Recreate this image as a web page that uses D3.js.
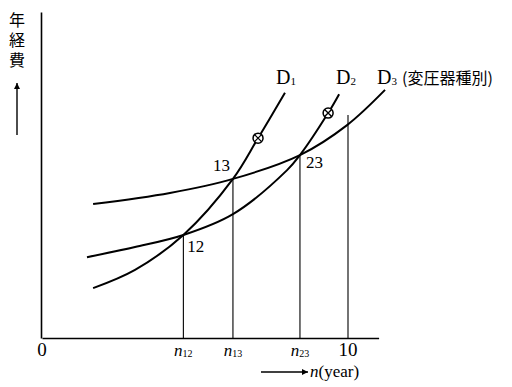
<!DOCTYPE html>
<html>
<head>
<meta charset="utf-8">
<script src="https://cdn.jsdelivr.net/npm/d3@7"></script>
<style>
  body { margin: 0; background: #fff; }
  svg { display: block; }
  text { font-family: "Liberation Serif", "DejaVu Serif", serif; fill: #000; }
  .cjk { font-family: "Noto Sans CJK JP", "Noto Sans CJK SC", sans-serif; }
</style>
</head>
<body>
<svg id="chart" width="512" height="387"></svg>
<script>
// Annual cost curves for three transformer types against years in service n.
// Break-even years (where two cost curves cross)
const n12 = 4.62, c12 = 31.6;
const n13 = 6.24, c13 = 48.8;
const n23 = 8.43, c23 = 56.1;

// Curve D1
const d1N = [1.67, 3.04, n12, n13, 7.06, 7.94];
const d1C = [15.3, 20.9, c12, c13, 61.3, 75.2];
// Curve D2
const d2N = [1.47, 3.04, n12, n13, 8.01, n23, 9.35, 9.71];
const d2C = [24.8, 27.9, c12, 38.0, 51.5, c23, 69.0, 74.8];
// Curve D3
const d3N = [1.67, 4.18, n13, n23, 9.97, 11.21];
const d3C = [41.1, 44.5, c13, c23, 65.3, 76.1];

// Crossed-circle markers on D1 and D2
const markN = [7.06, 9.35];
const markC = [61.3, 69.0];

// Axis label positions along n
const tickN = [0, n12, n13, n23, 10];
const tickLabels = ["0", "n12", "n13", "n23", "10"];

// Intersection labels
const crossN = [n12, n13, n23];
const crossC = [c12, c13, c23];
const crossLabels = ["12", "13", "23"];

// Height of the guide line at n = 10
const guideTop = 68.4;

const svg = d3.select("#chart");
const x = d3.scaleLinear().domain([0, 11]).range([42, 378.6]);
const y = d3.scaleLinear().domain([0, 100]).range([338, 12]);

// Axes: plain lines without tick marks
svg.append("g")
  .attr("transform", `translate(0,${y(0)})`)
  .call(d3.axisBottom(x).tickValues([]).tickSize(0).tickSizeOuter(0))
  .call(g => g.select(".domain").attr("stroke", "#000").attr("stroke-width", 1.6));
svg.append("g")
  .attr("transform", `translate(${x(0) - 1},0)`)
  .call(d3.axisLeft(y).tickValues([]).tickSize(0).tickSizeOuter(0))
  .call(g => g.select(".domain").attr("stroke", "#000").attr("stroke-width", 1.6));

// Vertical drop lines from crossings
svg.append("g").selectAll("line")
  .data(crossN.map((n, i) => [n, crossC[i]]))
  .join("line")
  .attr("x1", d => x(d[0])).attr("x2", d => x(d[0]))
  .attr("y1", d => y(d[1])).attr("y2", y(0))
  .attr("stroke", "#000").attr("stroke-width", 1.1);
svg.append("line")
  .attr("x1", x(10)).attr("x2", x(10))
  .attr("y1", y(guideTop)).attr("y2", y(0))
  .attr("stroke", "#000").attr("stroke-width", 1.1);

// Cost curves
const line = d3.line().x(d => x(d[0])).y(d => y(d[1])).curve(d3.curveCatmullRom.alpha(0.5));
[[d1N, d1C], [d2N, d2C], [d3N, d3C]].forEach(([ns, cs]) => {
  svg.append("path")
    .attr("d", line(ns.map((n, i) => [n, cs[i]])))
    .attr("fill", "none").attr("stroke", "#000").attr("stroke-width", 2);
});

// Crossed circle markers
const marks = svg.append("g").selectAll("g")
  .data(markN.map((n, i) => [n, markC[i]]))
  .join("g")
  .attr("transform", d => `translate(${x(d[0])},${y(d[1])})`);
marks.append("circle").attr("r", 5).attr("fill", "#fff").attr("stroke", "#000").attr("stroke-width", 1.5);
marks.append("path").attr("d", "M-3.5,-3.5L3.5,3.5M-3.5,3.5L3.5,-3.5").attr("stroke", "#000").attr("stroke-width", 1.3);

// Crossing labels
const crossDx = [4, -20, 6];
const crossDy = [17, -8, 13];
svg.append("g").selectAll("text")
  .data(crossLabels)
  .join("text")
  .attr("x", (d, i) => x(crossN[i]) + crossDx[i])
  .attr("y", (d, i) => y(crossC[i]) + crossDy[i])
  .attr("font-size", 17)
  .text(d => d);

// Curve names
const nameX = [276, 336, 377];
const nameSubs = ["1", "2", "3"];
nameX.forEach((px, i) => {
  const t = svg.append("text").attr("x", px).attr("y", 84).attr("font-size", 20);
  t.append("tspan").text("D");
  t.append("tspan").attr("font-size", 11).attr("dy", 1).text(nameSubs[i]);
});
svg.append("text").attr("class", "cjk").attr("x", 402).attr("y", 84)
  .attr("font-size", 16).text("(変圧器種別)");

// Bottom labels
tickN.forEach((n, i) => {
  const lab = tickLabels[i];
  const t = svg.append("text").attr("x", x(n)).attr("y", 356).attr("text-anchor", "middle");
  if (lab.startsWith("n")) {
    t.append("tspan").attr("font-style", "italic").attr("font-size", 17).text("n");
    t.append("tspan").attr("font-size", 10).attr("dy", 1).text(lab.slice(1));
  } else {
    t.attr("font-size", 19).text(lab);
  }
});

// Arrowheads
const defs = svg.append("defs");
defs.append("marker").attr("id", "arr").attr("viewBox", "0 0 10 10")
  .attr("refX", 10).attr("refY", 5).attr("markerWidth", 8).attr("markerHeight", 6)
  .attr("orient", "auto").attr("markerUnits", "userSpaceOnUse")
  .append("path").attr("d", "M0,0L10,5L0,10Z").attr("fill", "#000");

// n (year) label
svg.append("line").attr("x1", 261).attr("y1", 372).attr("x2", 308).attr("y2", 372)
  .attr("stroke", "#000").attr("stroke-width", 1.4).attr("marker-end", "url(#arr)");
const nt = svg.append("text").attr("x", 310).attr("y", 377).attr("font-size", 17);
nt.append("tspan").attr("font-style", "italic").text("n");
nt.append("tspan").text("(year)");

// Vertical cost label
svg.append("text")
  .attr("class", "cjk")
  .attr("x", 17).attr("y", 12)
  .attr("font-size", 16)
  .style("writing-mode", "vertical-rl")
  .attr("letter-spacing", 4)
  .text("年経費");
svg.append("line").attr("x1", 17).attr("y1", 135).attr("x2", 17).attr("y2", 83)
  .attr("stroke", "#000").attr("stroke-width", 1.4).attr("marker-end", "url(#arr)");
</script>
</body>
</html>
